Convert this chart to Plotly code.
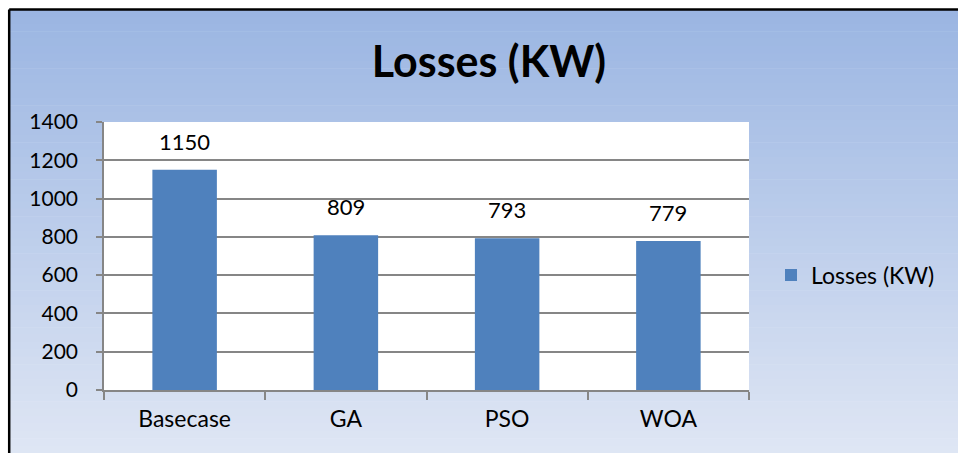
import plotly.graph_objects as go

# data
methods = ["Basecase", "GA", "PSO", "WOA"]
losses_kw = [1150, 809, 793, 779]
series_name = "Losses (KW)"

W, H = 958, 453
L, R, T, B = 104, 209, 122, 63  # plot area 104..749 x 122..390
pw, ph = W - L - R, H - T - B


def px(x):
    return (x - L) / pw


def py(y):
    return (H - B - y) / ph


fig = go.Figure()
fig.add_trace(
    go.Bar(
        x=methods,
        y=losses_kw,
        name=series_name,
        marker=dict(color="#4f81bd", line=dict(width=0)),
        width=0.4,
        showlegend=True,
    )
)

# value labels above bars
for m, v in zip(methods, losses_kw):
    fig.add_annotation(
        x=m, y=v, text=str(v), showarrow=False, yanchor="bottom", yshift=13,
        font=dict(size=22, color="black"),
    )

# gradient background (Excel style), white strip top/left outside the border
shapes = []
top_c = (154, 181, 226)
bot_c = (223, 230, 244)
y0, y1 = 9, H
n = 60
for i in range(n):
    a = y0 + (y1 - y0) * i / n
    b = y0 + (y1 - y0) * (i + 1) / n
    t = (i + 0.5) / n
    c = tuple(round(top_c[k] + (bot_c[k] - top_c[k]) * t) for k in range(3))
    shapes.append(dict(
        type="rect", xref="paper", yref="paper", layer="below",
        x0=px(9), x1=px(W + 2), y0=py(b + 0.5), y1=py(a),
        fillcolor="rgb(%d,%d,%d)" % c, line=dict(width=0),
    ))
# white plot area on top of gradient
shapes.append(dict(type="rect", xref="paper", yref="paper", layer="below",
                   x0=0, x1=1, y0=0, y1=1, fillcolor="white", line=dict(width=0)))
# chart border (left + top visible)
shapes.append(dict(type="line", xref="paper", yref="paper", x0=px(9.2), x1=px(W + 2),
                   y0=py(9.6), y1=py(9.6), line=dict(color="black", width=2.5)))
shapes.append(dict(type="line", xref="paper", yref="paper", x0=px(9.2), x1=px(9.2),
                   y0=py(9.6), y1=py(H + 2), line=dict(color="black", width=2.5)))

grey = "#868686"
fig.update_layout(
    width=W,
    height=H,
    margin=dict(l=L, r=R, t=T, b=B),
    paper_bgcolor="white",
    plot_bgcolor="rgba(0,0,0,0)",
    font=dict(family="Lato, Noto Sans, sans-serif", size=20, color="black"),
    title=dict(
        text="<b>Losses (KW)</b>", x=489 / W, xanchor="center",
        y=1 - 62 / H, yanchor="middle", font=dict(size=43, color="black"),
    ),
    shapes=shapes,
    showlegend=True,
    legend=dict(
        x=px(771), y=py(275), xanchor="left", yanchor="middle",
        bgcolor="rgba(0,0,0,0)", font=dict(size=23),
        itemsizing="constant",
    ),
    bargap=0.6,
)
fig.update_xaxes(
    showline=True, linecolor=grey, linewidth=1.5,
    ticks="outside", tickson="boundaries", ticklen=8, tickcolor=grey, tickwidth=1.5,
    ticklabelstandoff=8, showgrid=False, tickfont=dict(size=23),
)
fig.update_yaxes(
    range=[0, 1400], dtick=200,
    showline=True, linecolor=grey, linewidth=1.5,
    showgrid=True, gridcolor=grey, gridwidth=1.5,
    ticks="outside", ticklen=6, tickcolor=grey, tickwidth=1.5,
    ticklabelstandoff=14, zeroline=False, tickfont=dict(size=21),
)

# drop the default 8px page margin so the 958x453 figure fills the window
fig.write_html(
    "out.html",
    config={"displayModeBar": False},
    post_script="document.body.style.margin='0';"
                "document.documentElement.style.overflow='hidden';",
)
